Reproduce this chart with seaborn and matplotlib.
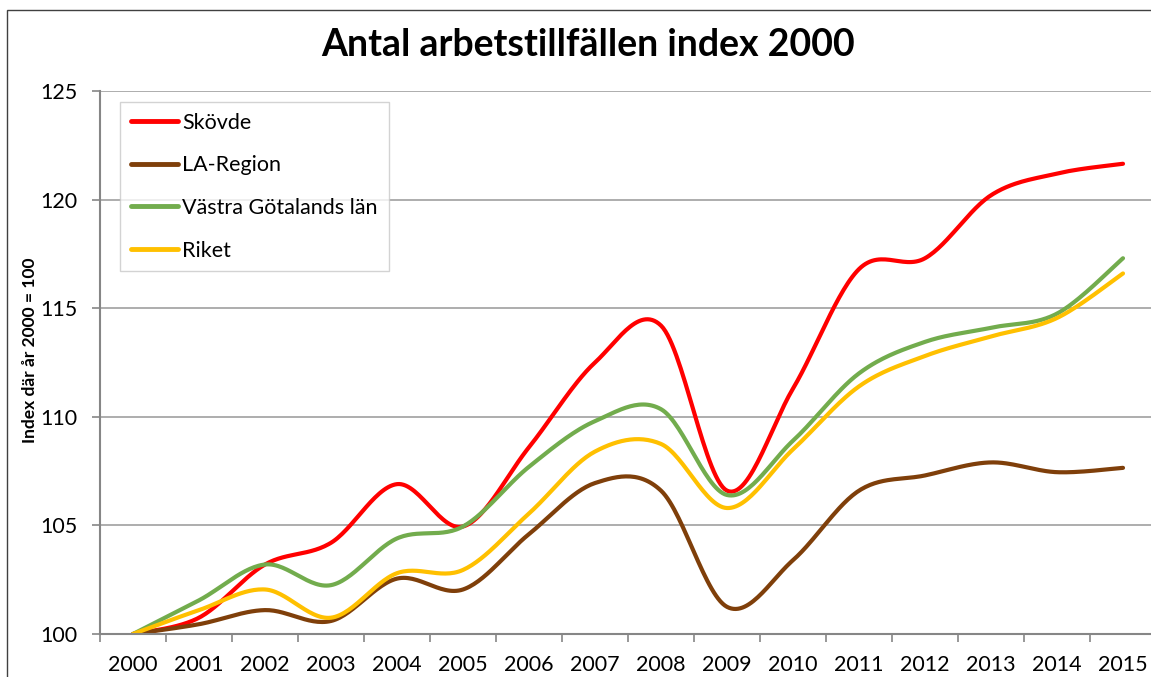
import numpy as np
import pandas as pd
import matplotlib
matplotlib.use("Agg")
import matplotlib.pyplot as plt
from matplotlib.patches import Rectangle
import seaborn as sns

# Values (index, year 2000 = 100)
years = list(range(2000, 2016))
skovde = [100, 100.75, 103.2, 104.2, 106.9, 104.95, 108.6, 112.5,
          114.2, 106.6, 111.3, 116.8, 117.3, 120.2, 121.2, 121.65]
la_region = [100, 100.45, 101.1, 100.6, 102.55, 102.05, 104.6, 106.95,
             106.6, 101.25, 103.4, 106.6, 107.3, 107.9, 107.45, 107.65]
vgl = [100, 101.55, 103.2, 102.25, 104.4, 104.95, 107.7, 109.8,
       110.35, 106.4, 108.9, 112.0, 113.45, 114.1, 114.75, 117.3]
riket = [100, 101.1, 102.05, 100.75, 102.8, 102.95, 105.55, 108.4,
         108.75, 105.8, 108.5, 111.4, 112.8, 113.7, 114.55, 116.6]

series_names = ["Skövde", "LA-Region", "Västra Götalands län", "Riket"]
series_values = [skovde, la_region, vgl, riket]
colors = {"Skövde": "#FF0000", "LA-Region": "#7F3F0A",
          "Västra Götalands län": "#72AC4D", "Riket": "#FFC000"}


def smooth(xs, ys, n=30):
    """Excel-style smoothed line: cubic bezier through every point."""
    xs = np.asarray(xs, float)
    ys = np.asarray(ys, float)
    px = np.concatenate([[xs[0]], xs, [xs[-1]]])
    py = np.concatenate([[ys[0]], ys, [ys[-1]]])
    out_x, out_y = [], []
    t = np.linspace(0, 1, n, endpoint=False)
    for i in range(1, len(px) - 2):
        p0 = np.array([px[i], py[i]])
        p3 = np.array([px[i + 1], py[i + 1]])
        c1 = p0 + (p3 - np.array([px[i - 1], py[i - 1]])) / 6
        c2 = p3 - (np.array([px[i + 2], py[i + 2]]) - p0) / 6
        b = ((1 - t) ** 3)[:, None] * p0 + (3 * (1 - t) ** 2 * t)[:, None] * c1 \
            + (3 * (1 - t) * t ** 2)[:, None] * c2 + (t ** 3)[:, None] * p3
        out_x.extend(b[:, 0])
        out_y.extend(b[:, 1])
    out_x.append(xs[-1])
    out_y.append(ys[-1])
    return out_x, out_y


rows = []
pos = np.arange(len(years))
for name, vals in zip(series_names, series_values):
    sx, sy = smooth(pos, vals)
    rows.append(pd.DataFrame({"x": sx, "y": sy, "serie": name}))
df = pd.concat(rows, ignore_index=True)

sns.set_theme(style="white")
plt.rcParams["font.family"] = ["Lato", "DejaVu Sans"]
plt.rcParams["text.color"] = "black"
plt.rcParams["axes.labelcolor"] = "black"

fig = plt.figure(figsize=(11.51, 6.77), dpi=100)
ax = fig.add_axes([100 / 1151, 43 / 677, 1056 / 1151, 543 / 677])

sns.lineplot(data=df, x="x", y="y", hue="serie", palette=colors,
             hue_order=series_names, sort=False, estimator=None,
             linewidth=3, ax=ax)

ax.set_xlim(-0.5, len(years) - 0.5)
ax.set_ylim(100, 125)
ax.set_yticks([100, 105, 110, 115, 120, 125])
ax.set_xticks(pos)
ax.set_xticklabels([str(y) for y in years])
ax.set_xticks(np.arange(-0.5, len(years), 1), minor=True)
ax.tick_params(axis="x", which="major", length=0, pad=15, labelsize=15.5,
               labelcolor="black")
ax.tick_params(axis="x", which="minor", length=6, width=1.2,
               color="#868686", bottom=True, direction="out")
ax.tick_params(axis="y", which="major", length=6, width=1.2,
               color="#868686", left=True, direction="out", pad=10,
               labelsize=15.5, labelcolor="black")

ax.grid(axis="y", color="#A0A0A0", linewidth=1.2)
ax.set_axisbelow(True)
for side in ["top", "right"]:
    ax.spines[side].set_visible(False)
for side in ["left", "bottom"]:
    ax.spines[side].set_color("#868686")
    ax.spines[side].set_linewidth(1.5)

ax.set_xlabel("")
ax.set_ylabel("Index där år 2000 = 100", fontsize=12.5, fontweight="bold")
ax.yaxis.set_label_coords(-0.059, 0.523)

leg = ax.legend(loc="upper left", bbox_to_anchor=(20 / 1056, 532 / 543),
                borderaxespad=0, fontsize=15.5, frameon=True, fancybox=False,
                handlelength=2.2, handletextpad=0.2, labelspacing=1.05,
                borderpad=0.5, title=None)
leg.get_frame().set_edgecolor("#C8C8C8")
leg.get_frame().set_linewidth(1)
for line in leg.get_lines():
    line.set_linewidth(3.5)
for txt in leg.get_texts():
    txt.set_color("black")

fig.text(588 / 1151, 1 - 45 / 677, "Antal arbetstillfällen index 2000",
         ha="center", va="center", fontsize=27, fontweight="bold",
         color="black")

fig.patches.append(Rectangle((7 / 1151, -0.05), 1.1, 1.05 - 10 / 677,
                             transform=fig.transFigure, fill=False,
                             edgecolor="#404040", linewidth=1))

fig.savefig("out.png", dpi=100)
